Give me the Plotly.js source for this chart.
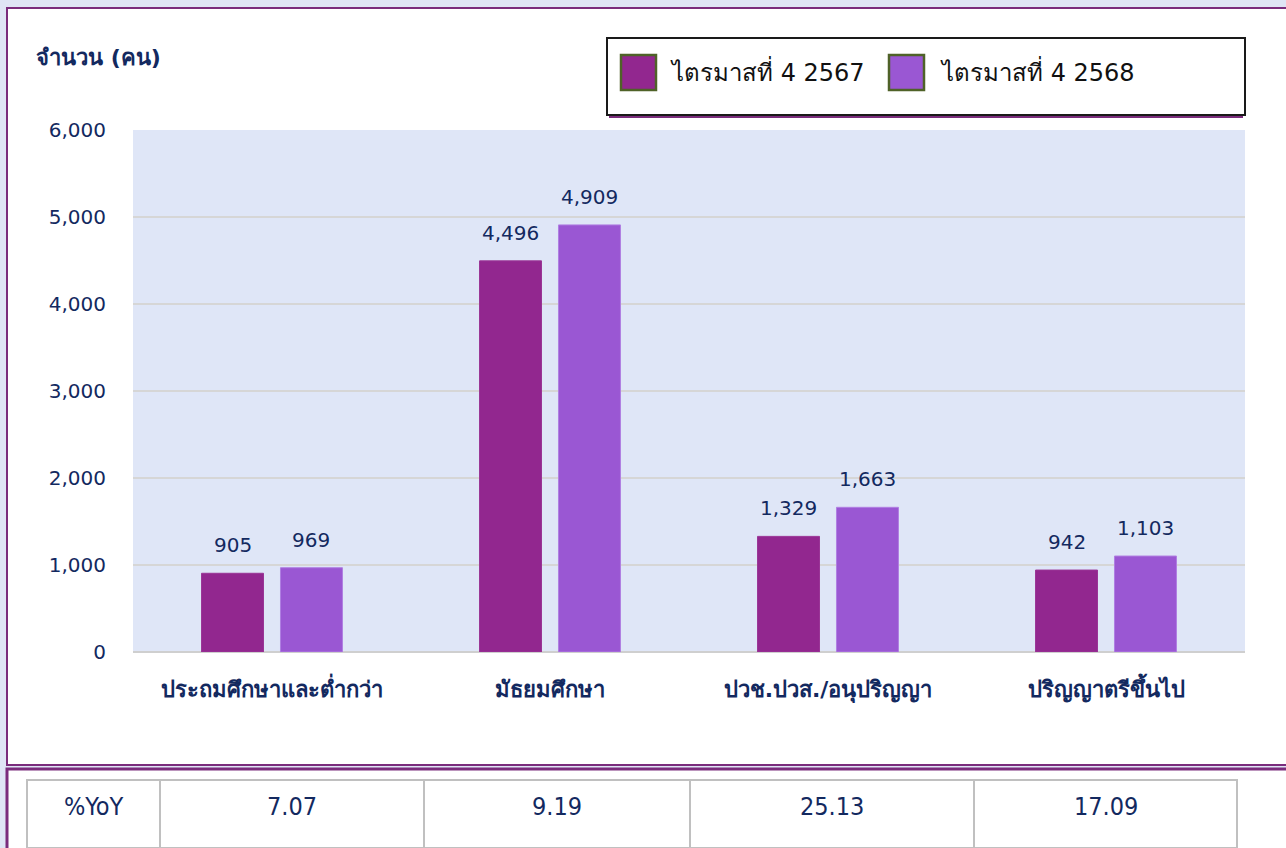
<!DOCTYPE html>
<html><head><meta charset="utf-8">
<script src="https://cdn.plot.ly/plotly-3.0.1.min.js"></script>
<style>html,body{margin:0;padding:0;background:#dfe5f5;overflow:hidden}</style>
</head><body><div id="chart" style="width:1286px;height:848px"></div>
<script>
// ---- data ----
const categories = ['ประถมศึกษาและต่ำกว่า', 'มัธยมศึกษา', 'ปวช.ปวส./อนุปริญญา', 'ปริญญาตรีขึ้นไป'];
const seriesNames = ['ไตรมาสที่ 4 2567', 'ไตรมาสที่ 4 2568'];
const values2567 = [905, 4496, 1329, 942];
const values2568 = [969, 4909, 1663, 1103];
const yoyLabel = '%YoY';
const yoyValues = ['7.07', '9.19', '25.13', '17.09'];
const yTickVals = [0, 1000, 2000, 3000, 4000, 5000, 6000];
const yTickText = ['0', '1,000', '2,000', '3,000', '4,000', '5,000', '6,000'];
const yTitle = 'จำนวน (คน)';

// ---- style ----
const W = 1286, H = 848;
const fx = x => x / W, fy = y => 1 - y / H;
const NAVY = '#13295f';
const PURPLE = '#7a2c7c';
const FONT = "'DejaVu Sans', Tahoma, sans-serif";
const FONTC = "'DejaVu Sans Condensed', 'DejaVu Sans', sans-serif";
const colors = ['#92278f', '#9a57d3'];
const plot = {l: 133, r: 1245, t: 130, b: 652};
const bargap = 0.432, bargroupgap = 0.215;
const catPx = (plot.r - plot.l) / categories.length;
const slotPx = (1 - bargap) / 2 * catPx;
const tableLeft = 27, tableTop = 780;
const colWidths = [133, 264, 266, 284, 263];

const seriesValues = [values2567, values2568];
const traces = seriesValues.map((vals, i) => ({
  type: 'bar', x: categories, y: vals, name: seriesNames[i],
  marker: {color: colors[i], line: {color: i === 0 ? '#9a3596' : '#b07fe2', width: 1}},
  hoverinfo: 'skip', showlegend: false
}));

const tableCells = [yoyLabel].concat(yoyValues);
const tableWidth = colWidths.reduce((a, b) => a + b, 0);
traces.push({
  type: 'table',
  domain: {x: [fx(tableLeft), fx(tableLeft + tableWidth)], y: [0, fy(tableTop)]},
  columnwidth: colWidths,
  header: {
    values: tableCells.map(() => ''),
    height: 68,
    fill: {color: '#ffffff'},
    line: {color: '#c0c0c0', width: 2},
    font: {family: FONTC, size: 25, color: NAVY}
  },
  cells: {values: tableCells.map(() => []), height: 0, line: {color: '#c0c0c0', width: 2}}
});

const shapes = [
  {type: 'rect', xref: 'paper', yref: 'paper', x0: fx(7), x1: fx(1300), y0: fy(8), y1: fy(765),
   fillcolor: '#ffffff', line: {color: PURPLE, width: 2}, layer: 'below'},
  {type: 'rect', xref: 'paper', yref: 'paper', x0: fx(7), x1: fx(1300), y0: fy(769), y1: fy(900),
   fillcolor: '#ffffff', line: {color: PURPLE, width: 3}, layer: 'below'},
  {type: 'rect', xref: 'paper', yref: 'paper', x0: fx(plot.l), x1: fx(plot.r), y0: fy(plot.t), y1: fy(plot.b),
   fillcolor: '#dfe6f7', line: {width: 0}, layer: 'below'},
  // legend box
  {type: 'line', xref: 'paper', yref: 'paper', x0: fx(609), x1: fx(1243), y0: fy(117), y1: fy(117),
   line: {color: PURPLE, width: 2}},
  {type: 'rect', xref: 'paper', yref: 'paper', x0: fx(607), x1: fx(1245), y0: fy(38), y1: fy(115),
   fillcolor: '#ffffff', line: {color: '#1a1a1a', width: 2}}
];
const legendX = [621, 889];
const legendTextX = [668, 938];
seriesNames.forEach((n, i) => {
  shapes.push({type: 'rect', xref: 'paper', yref: 'paper',
    x0: fx(legendX[i]), x1: fx(legendX[i] + 35), y0: fy(55), y1: fy(90),
    fillcolor: colors[i], line: {color: '#4f6228', width: 2.5}});
});

const annotations = [
  {xref: 'paper', yref: 'paper', x: fx(34), y: fy(57), xanchor: 'left', yanchor: 'middle',
   text: yTitle, showarrow: false, font: {family: FONT, size: 22, color: NAVY, weight: 'bold'}}
];
seriesNames.forEach((n, i) => {
  annotations.push({xref: 'paper', yref: 'paper', x: fx(legendTextX[i]), y: fy(72),
    xanchor: 'left', yanchor: 'middle', text: n, showarrow: false,
    font: {family: FONT, size: 24, color: '#111111'}});
});
seriesValues.forEach((vals, i) => {
  vals.forEach((v, j) => {
    annotations.push({xref: 'x', yref: 'y', x: categories[j], y: v,
      xshift: (i === 0 ? -1 : 1) * slotPx / 2, yshift: 14, yanchor: 'bottom',
      text: v.toLocaleString('en-US'), showarrow: false,
      font: {family: FONT, size: 20, color: NAVY}});
  });
});
// table cell texts, centred in each column
let edge = tableLeft;
tableCells.forEach((t, k) => {
  annotations.push({xref: 'paper', yref: 'paper', x: fx(edge + colWidths[k] / 2), y: fy(806),
    xanchor: 'center', yanchor: 'middle', text: t, showarrow: false,
    font: {family: FONTC, size: 25, color: NAVY}});
  edge += colWidths[k];
});

const layout = {
  width: W, height: H,
  margin: {l: 0, r: 0, t: 0, b: 0},
  paper_bgcolor: '#dfe5f5',
  plot_bgcolor: 'rgba(0,0,0,0)',
  barmode: 'group', bargap: bargap, bargroupgap: bargroupgap,
  showlegend: false,
  xaxis: {
    domain: [fx(plot.l), fx(plot.r)], type: 'category',
    showgrid: false, zeroline: false, showline: false, ticks: '',
    ticklabelstandoff: 22,
    tickfont: {family: FONT, size: 22, color: NAVY, weight: 'bold'},
    fixedrange: true
  },
  yaxis: {
    domain: [fy(plot.b), fy(plot.t)], range: [0, 6000],
    tickvals: yTickVals, ticktext: yTickText,
    showgrid: true, gridcolor: '#d6d6d6', gridwidth: 2,
    zeroline: true, zerolinecolor: '#cfcfcf', zerolinewidth: 2,
    showline: false, ticks: '', ticklabelstandoff: 26,
    tickfont: {family: FONT, size: 20, color: NAVY},
    fixedrange: true
  },
  shapes: shapes,
  annotations: annotations
};

Plotly.newPlot('chart', traces, layout, {staticPlot: true, displayModeBar: false});
</script>
</body></html>
